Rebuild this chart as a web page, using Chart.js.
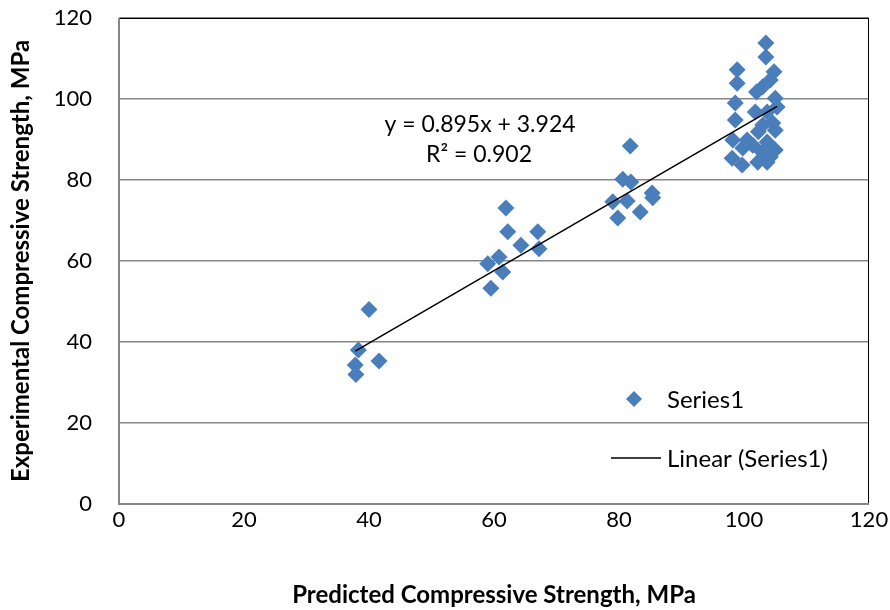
<!DOCTYPE html>
<html>
<head>
<meta charset="utf-8">
<script src="https://cdn.jsdelivr.net/npm/chart.js@4.4.0/dist/chart.umd.min.js"></script>
<style>
html, body { margin: 0; padding: 0; background: #fff; }
</style>
</head>
<body>
<canvas id="chart1" width="890" height="610"></canvas>
<script>
// valores
const predicted = [
    40.0, 38.3, 41.6, 37.8, 37.9,
    61.9, 62.2, 67.0, 64.3, 67.2, 59.0, 60.8, 61.4, 59.5,
    81.8, 80.6, 81.9, 85.3, 85.4, 79.0, 81.3, 83.4, 79.8,
    103.5, 103.5, 98.9, 98.9, 104.8, 104.2, 103.0, 102.0, 98.6, 105.0,
    105.3, 101.8, 103.7, 98.6, 104.6, 103.0, 105.0, 102.3, 98.2, 100.5,
    101.4, 103.7, 105.0, 99.8, 102.9, 104.2, 98.1, 99.7, 102.2, 103.7
];
const experimental = [
    48.0, 38.0, 35.3, 34.3, 32.0,
    73.1, 67.2, 67.2, 63.9, 63.0, 59.3, 61.0, 57.3, 53.3,
    88.4, 80.2, 79.5, 76.8, 75.6, 74.6, 74.8, 72.1, 70.6,
    113.8, 110.4, 107.2, 103.9, 106.7, 104.7, 103.0, 101.7, 99.0, 100.2,
    98.0, 96.8, 96.8, 94.8, 94.1, 93.6, 92.3, 91.9, 89.9, 89.9,
    88.6, 89.4, 87.4, 87.9, 86.9, 85.7, 85.4, 83.7, 84.4, 84.4
];
const slope = 0.895;
const intercept = 3.924;
const equationText = "y = 0.895x + 3.924";
const r2Text = "R\u00B2 = 0.902";
const axisTicks = [0, 20, 40, 60, 80, 100, 120];

const blue = '#4a7ebb';
const fontName = 'Lato, "Open Sans", sans-serif';

const puntos = predicted.map((x, i) => ({ x: x, y: experimental[i] }));
const xMin = Math.min(...predicted);
const xMax = Math.max(...predicted);
const tendencia = [
    { x: xMin, y: slope * xMin + intercept },
    { x: xMax, y: slope * xMax + intercept }
];

// marco del area de trazado
const marcoPlugin = {
    id: 'marco',
    beforeDatasetsDraw(chart) {
        const a = chart.chartArea;
        const ctx = chart.ctx;
        ctx.save();
        ctx.strokeStyle = '#000';
        ctx.lineWidth = 1;
        ctx.strokeRect(a.left + 0.5, a.top + 0.5, a.right - a.left - 1, a.bottom - a.top - 1);
        ctx.strokeStyle = '#868686';
        ctx.lineWidth = 2;
        ctx.beginPath();
        ctx.moveTo(a.left, a.top);
        ctx.lineTo(a.left, a.bottom);
        ctx.lineTo(a.right, a.bottom);
        ctx.stroke();
        ctx.restore();
    }
};

// leyenda y ecuacion dentro del grafico
const textosPlugin = {
    id: 'textos',
    afterDraw(chart) {
        const ctx = chart.ctx;
        ctx.save();
        ctx.fillStyle = '#000';
        ctx.font = '23px ' + fontName;
        ctx.textAlign = 'center';
        ctx.textBaseline = 'middle';
        ctx.fillText(equationText, 480, 125);
        ctx.fillText(r2Text, 479, 155);

        ctx.font = '24px ' + fontName;
        ctx.textAlign = 'left';
        ctx.fillText('Series1', 667, 400);
        ctx.fillText('Linear (Series1)', 667, 459);

        ctx.fillStyle = blue;
        ctx.beginPath();
        ctx.moveTo(634, 391);
        ctx.lineTo(642, 399);
        ctx.lineTo(634, 407);
        ctx.lineTo(626, 399);
        ctx.closePath();
        ctx.fill();

        ctx.strokeStyle = '#000';
        ctx.lineWidth = 1.5;
        ctx.beginPath();
        ctx.moveTo(611, 458);
        ctx.lineTo(661, 458);
        ctx.stroke();
        ctx.restore();
    }
};

const ctx = document.getElementById('chart1').getContext('2d');
window.chart1 = new Chart(ctx, {
    type: 'scatter',
    data: {
        datasets: [
            {
                label: 'Linear (Series1)',
                data: tendencia,
                type: 'line',
                showLine: true,
                borderColor: '#000',
                borderWidth: 1.5,
                pointRadius: 0,
                fill: false,
                order: 0
            },
            {
                label: 'Series1',
                data: puntos,
                pointStyle: 'rectRot',
                pointRadius: 8.5,
                pointHoverRadius: 8.5,
                backgroundColor: blue,
                borderColor: blue,
                borderWidth: 0,
                order: 1
            }
        ]
    },
    options: {
        responsive: false,
        animation: false,
        layout: { padding: { top: 18, right: 21, left: 0, bottom: 0 } },
        plugins: {
            legend: { display: false },
            tooltip: { enabled: false }
        },
        scales: {
            x: {
                min: 0,
                max: 120,
                afterBuildTicks: s => { s.ticks = axisTicks.map(v => ({ value: v })); },
                afterFit: s => { s.height = 106; s.paddingLeft = 0; s.paddingRight = 0; },
                grid: { display: false, drawTicks: false },
                border: { display: false },
                ticks: { color: '#000', padding: 3, font: { family: fontName, size: 22 } },
                title: {
                    display: true,
                    text: 'Predicted Compressive Strength, MPa',
                    color: '#000',
                    padding: { top: 0, bottom: 0 },
                    font: { family: fontName, size: 24, weight: 'bold' }
                }
            },
            y: {
                min: 0,
                max: 120,
                afterBuildTicks: s => { s.ticks = axisTicks.map(v => ({ value: v })); },
                afterFit: s => { s.width = 119; s.paddingTop = 0; s.paddingBottom = 0; },
                grid: { color: '#868686', lineWidth: 1.5, drawTicks: false },
                border: { display: false },
                ticks: { color: '#000', padding: 27, font: { family: fontName, size: 22 } },
                title: {
                    display: true,
                    text: 'Experimental Compressive Strength, MPa',
                    color: '#000',
                    padding: { top: 7, bottom: 0 },
                    font: { family: fontName, size: 24, weight: 'bold' }
                }
            }
        }
    },
    plugins: [marcoPlugin, textosPlugin]
});
</script>
</body>
</html>
